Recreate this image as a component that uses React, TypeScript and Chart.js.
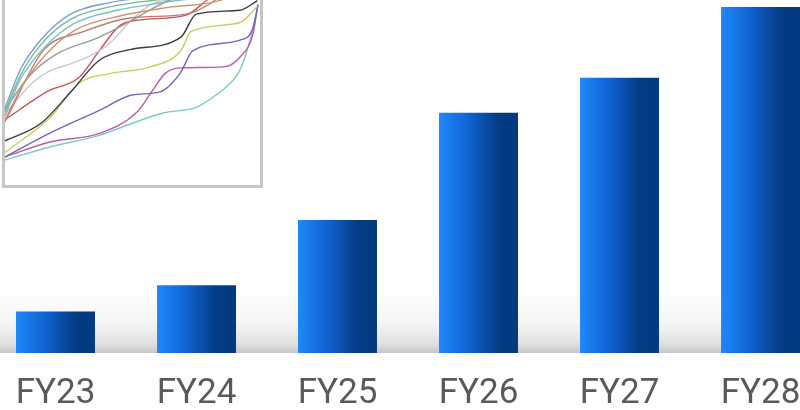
import { useEffect, useRef } from "react";
import { Chart, registerables } from "chart.js";

Chart.register(...registerables);

// ---- main bar chart data ----
const categories = ["FY23", "FY24", "FY25", "FY26", "FY27", "FY28"];
const values = [12, 19.6, 38.4, 69.4, 79.5, 100];
const yMax = 102;
const barPct = 0.56;

// ---- inset thumbnail lines (x, y in 0..100 units) ----
const lineBlue = [[0, 40], [6, 60], [14, 75.5], [25, 88.5], [41, 95], [57, 98], [77, 101]];
const lineGreen = [[0, 38], [6, 57], [14, 73], [26, 86.5], [42, 93], [60, 96.5], [80, 99.5]];
const lineTeal = [[0, 36], [6, 55], [15, 71], [27, 84], [44, 91], [62, 95], [82, 98.5]];
const lineOrange = [[0, 34], [7, 52], [16, 68], [28, 81], [45, 88], [64, 92.5], [84, 96], [90, 100]];
const lineBrown = [[0, 33], [15, 70], [31, 80], [49, 87], [71, 89], [80, 94], [86, 100]];
const lineGray = [[0, 39], [9, 56], [20, 68], [37, 77], [50, 86], [58, 92], [66, 97], [75, 100]];
const lineLightGray = [[0, 37], [10.6, 53], [17.6, 59.4], [25.5, 63], [33.3, 67.2], [41.2, 74], [49, 85], [57, 94], [69, 97]];
const lineRed = [[0, 34], [17, 49], [29, 56], [37, 70], [45, 83], [53, 86], [71, 88.5], [80, 97], [84, 100]];
const lineBlack = [[0, 23], [14, 32], [25.5, 48], [37, 65], [49, 70.5], [69, 77], [75, 89], [92, 91], [99, 96]];
const lineYellow = [[0, 17], [17.6, 35], [29, 53], [41, 58], [57, 61.5], [69, 70], [73, 80], [92, 84.5], [99, 93]];
const linePurple = [[0, 14.6], [17.6, 27], [37.3, 39], [50.2, 47], [60.8, 48.5], [68.6, 58], [73.7, 70], [92.2, 75.5], [97.3, 82], [99.2, 94]];
const linePink = [[0, 14.6], [17.6, 22.4], [37.3, 27], [51.8, 38], [58, 49.5], [62.7, 58], [68.6, 61], [85.5, 61.5], [92.2, 66.7], [97.3, 79], [99.2, 94]];
const lineCyan = [[0, 13], [17.6, 19.8], [37.3, 26], [50.2, 32.3], [62, 37.5], [75.3, 40.6], [81.6, 45.8], [86.3, 50.5], [92.2, 60], [96.1, 75.5], [99.2, 93]];

const insetLines: { color: string; pts: number[][] }[] = [
  { color: "#d09470", pts: lineOrange },
  { color: "#7cc0ca", pts: lineTeal },
  { color: "#72bc8a", pts: lineGreen },
  { color: "#7d9bdb", pts: lineBlue },
  { color: "#bf7a6e", pts: lineBrown },
  { color: "#9a9a9a", pts: lineGray },
  { color: "#c9c9c9", pts: lineLightGray },
  { color: "#cc5058", pts: lineRed },
  { color: "#3a3a3a", pts: lineBlack },
  { color: "#cccc5a", pts: lineYellow },
  { color: "#7266be", pts: linePurple },
  { color: "#bb5aaf", pts: linePink },
  { color: "#7ccaca", pts: lineCyan },
];

const floorShadow = {
  id: "floorShadow",
  beforeDatasetsDraw(chart: any) {
    const { ctx, chartArea } = chart;
    const top = chartArea.bottom - 62;
    const g = ctx.createLinearGradient(0, top, 0, chartArea.bottom);
    g.addColorStop(0, "rgba(0,0,0,0)");
    g.addColorStop(0.5, "rgba(0,0,0,0.04)");
    g.addColorStop(0.85, "rgba(0,0,0,0.12)");
    g.addColorStop(1, "rgba(0,0,0,0.22)");
    ctx.save();
    ctx.fillStyle = g;
    ctx.fillRect(chartArea.left, top, chartArea.right - chartArea.left, chartArea.bottom - top);
    ctx.restore();
  },
};

export default function App() {
  const barRef = useRef<HTMLCanvasElement | null>(null);
  const insetRef = useRef<HTMLCanvasElement | null>(null);

  useEffect(() => {
    document.documentElement.style.overflow = "hidden";
    document.body.style.overflow = "hidden";

    const bar = new Chart(barRef.current!, {
      type: "bar",
      data: {
        labels: categories,
        datasets: [
          {
            data: values,
            borderWidth: 0,
            backgroundColor: (c: any) => {
              const chart = c.chart;
              const area = chart.chartArea;
              const xs = chart.scales?.x;
              if (!area || !xs) return "#1e86fa";
              const cx = xs.getPixelForValue(c.dataIndex);
              const w = ((area.right - area.left) / categories.length) * barPct;
              const g = chart.ctx.createLinearGradient(cx - w / 2, 0, cx + w / 2, 0);
              g.addColorStop(0, "#1f88fc");
              g.addColorStop(0.4, "#0f60cc");
              g.addColorStop(0.75, "#043c86");
              g.addColorStop(1, "#02397e");
              return g;
            },
            categoryPercentage: 1,
            barPercentage: barPct,
          },
        ],
      },
      options: {
        animation: false,
        responsive: true,
        maintainAspectRatio: false,
        events: [],
        layout: { padding: 0 },
        plugins: { legend: { display: false }, tooltip: { enabled: false } },
        scales: {
          x: {
            grid: { display: false, drawTicks: false },
            border: { display: false },
            afterFit: (scale: any) => {
              scale.height = 57;
            },
            ticks: {
              padding: 20,
              color: "#5a5a5a",
              font: { family: "Roboto", size: 35, weight: "normal", lineHeight: 1.2 },
            },
          },
          y: { display: false, min: 0, max: yMax },
        },
      },
      plugins: [floorShadow],
    });

    const inset = new Chart(insetRef.current!, {
      type: "line",
      data: {
        datasets: insetLines.map((l) => ({
          data: l.pts.map((p) => ({ x: p[0], y: p[1] })),
          borderColor: l.color,
          borderWidth: 1.4,
          pointRadius: 0,
          cubicInterpolationMode: "monotone" as const,
          fill: false,
        })),
      },
      options: {
        animation: false,
        responsive: true,
        maintainAspectRatio: false,
        events: [],
        layout: { padding: 0 },
        plugins: { legend: { display: false }, tooltip: { enabled: false } },
        scales: {
          x: { type: "linear", display: false, min: 0, max: 100 },
          y: { display: false, min: 0, max: 100 },
        },
      },
    });

    return () => {
      bar.destroy();
      inset.destroy();
    };
  }, []);

  return (
    <div style={{ position: "fixed", left: 0, top: 0, width: 800, height: 410, overflow: "hidden", background: "#fff" }}>
      <div style={{ position: "absolute", left: -15, top: 0, width: 846, height: 410 }}>
        <canvas ref={barRef} />
      </div>
      <div
        style={{
          position: "absolute",
          left: 2,
          top: -10,
          width: 255,
          height: 192,
          border: "3px solid #c6c6c6",
          background: "#fff",
          overflow: "hidden",
        }}
      >
        <div style={{ position: "relative", width: 255, height: 192 }}>
          <canvas ref={insetRef} />
        </div>
      </div>
    </div>
  );
}
